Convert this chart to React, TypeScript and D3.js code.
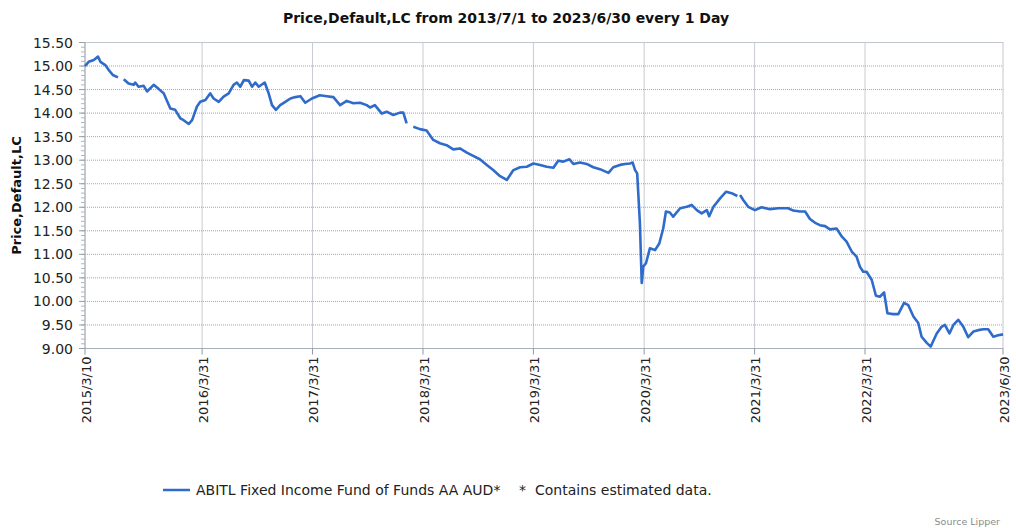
import React from "react";
import * as d3 from "d3";

// price series (null = gap in the line)
const priceDates = [
  "2015-03-10", "2015-03-22", "2015-04-08", "2015-04-22", "2015-04-30", "2015-05-16", "2015-05-27", "2015-06-10",
  "2015-06-27", "2015-07-05", "2015-07-16", "2015-08-01", "2015-08-18", "2015-08-23", "2015-09-03", "2015-09-20",
  "2015-10-01", "2015-10-23", "2015-11-09", "2015-11-25", "2015-12-17", "2016-01-02", "2016-01-19", "2016-01-30",
  "2016-02-16", "2016-02-27", "2016-03-14", "2016-03-25", "2016-04-11", "2016-04-27", "2016-05-08", "2016-05-25",
  "2016-06-10", "2016-06-27", "2016-07-13", "2016-07-24", "2016-08-04", "2016-08-16", "2016-09-01", "2016-09-12",
  "2016-09-23", "2016-10-04", "2016-10-24", "2016-11-06", "2016-11-17", "2016-11-30", "2016-12-14", "2016-12-31",
  "2017-01-17", "2017-02-02", "2017-02-19", "2017-03-07", "2017-03-29", "2017-04-24", "2017-05-17", "2017-06-08",
  "2017-06-30", "2017-07-22", "2017-08-13", "2017-09-04", "2017-09-26", "2017-10-07", "2017-10-23", "2017-11-15",
  "2017-12-01", "2017-12-23", "2018-01-14", "2018-01-25", "2018-02-05", "2018-02-12", "2018-02-27", "2018-03-21",
  "2018-04-12", "2018-05-04", "2018-05-26", "2018-06-17", "2018-07-09", "2018-07-31", "2018-08-23", "2018-09-13",
  "2018-10-05", "2018-10-28", "2018-11-18", "2018-12-11", "2019-01-02", "2019-01-24", "2019-02-15", "2019-03-09",
  "2019-03-31", "2019-04-22", "2019-05-14", "2019-06-05", "2019-06-21", "2019-07-08", "2019-07-28", "2019-08-10",
  "2019-09-01", "2019-09-23", "2019-10-15", "2019-11-06", "2019-12-04", "2019-12-20", "2020-01-11", "2020-01-28",
  "2020-02-13", "2020-02-22", "2020-03-01", "2020-03-08", "2020-03-17", "2020-03-23", "2020-03-28", "2020-04-06",
  "2020-04-19", "2020-05-06", "2020-05-20", "2020-06-02", "2020-06-11", "2020-06-24", "2020-07-05", "2020-07-28",
  "2020-08-19", "2020-09-04", "2020-09-21", "2020-10-07", "2020-10-24", "2020-11-01", "2020-11-15", "2020-12-07",
  "2020-12-27", "2021-01-14", "2021-02-02", "2021-02-06", "2021-02-11", "2021-02-22", "2021-03-10", "2021-04-01",
  "2021-04-23", "2021-05-21", "2021-06-17", "2021-07-20", "2021-08-06", "2021-08-28", "2021-09-14", "2021-09-30",
  "2021-10-17", "2021-11-02", "2021-11-19", "2021-12-05", "2021-12-27", "2022-01-13", "2022-01-29", "2022-02-15",
  "2022-03-03", "2022-03-14", "2022-03-25", "2022-04-05", "2022-04-22", "2022-05-06", "2022-05-19", "2022-06-02",
  "2022-06-13", "2022-07-02", "2022-07-19", "2022-08-07", "2022-08-21", "2022-09-07", "2022-09-23", "2022-10-04",
  "2022-10-21", "2022-11-03", "2022-11-10", "2022-11-23", "2022-12-09", "2022-12-20", "2023-01-04", "2023-01-17",
  "2023-02-02", "2023-02-19", "2023-03-07", "2023-03-24", "2023-04-09", "2023-04-26", "2023-05-12", "2023-05-29",
  "2023-06-14", "2023-06-30",
];
const priceValues = [
  15.0, 15.09, 15.13, 15.2, 15.09, 15.02, 14.92, 14.81,
  14.76, null, 14.72, 14.63, 14.6, 14.65, 14.56, 14.58,
  14.46, 14.6, 14.51, 14.42, 14.1, 14.07, 13.89, 13.85,
  13.77, 13.85, 14.14, 14.24, 14.28, 14.42, 14.31, 14.24,
  14.35, 14.42, 14.6, 14.65, 14.56, 14.7, 14.69, 14.56,
  14.65, 14.56, 14.65, 14.42, 14.17, 14.07, 14.17, 14.24,
  14.31, 14.34, 14.36, 14.22, 14.31, 14.38, 14.36, 14.34,
  14.17, 14.26, 14.21, 14.22, 14.17, 14.12, 14.17, 13.99,
  14.03, 13.96, 14.01, 14.01, 13.78, null, 13.71, 13.66,
  13.63, 13.43, 13.36, 13.32, 13.23, 13.25, 13.16, 13.09,
  13.02, 12.9, 12.79, 12.66, 12.58, 12.79, 12.85, 12.86,
  12.93, 12.9, 12.86, 12.84, 12.99, 12.97, 13.02, 12.92,
  12.95, 12.92, 12.85, 12.81, 12.73, 12.85, 12.9, 12.92,
  12.93, 12.95, 12.79, 12.72, 11.66, 10.39, 10.74, 10.81,
  11.13, 11.09, 11.23, 11.55, 11.91, 11.89, 11.8, 11.98,
  12.01, 12.05, 11.94, 11.87, 11.94, 11.81, 12.01, 12.19,
  12.33, 12.3, 12.24, null, 12.26, 12.15, 12.01, 11.94,
  12.0, 11.96, 11.98, 11.98, 11.93, 11.91, 11.91, 11.75,
  11.67, 11.62, 11.6, 11.53, 11.55, 11.38, 11.27, 11.06,
  10.95, 10.74, 10.63, 10.63, 10.46, 10.12, 10.1, 10.19,
  9.75, 9.73, 9.73, 9.97, 9.92, 9.68, 9.54, 9.25,
  9.12, 9.04, 9.14, 9.32, 9.46, 9.5, 9.32, 9.5,
  9.61, 9.46, 9.24, 9.36, 9.39, 9.41, 9.41, 9.25,
  9.28, 9.3,
];

const xTickDates = ["2015-03-10", "2016-03-31", "2017-03-31", "2018-03-31", "2019-03-31", "2020-03-31", "2021-03-31", "2022-03-31", "2023-06-30"];
const xTickLabels = ["2015/3/10", "2016/3/31", "2017/3/31", "2018/3/31", "2019/3/31", "2020/3/31", "2021/3/31", "2022/3/31", "2023/6/30"];
const yTicks = [9, 9.5, 10, 10.5, 11, 11.5, 12, 12.5, 13, 13.5, 14, 14.5, 15, 15.5];

const title = "Price,Default,LC from 2013/7/1 to 2023/6/30 every 1 Day";
const yTitle = "Price,Default,LC";
const seriesName = "ABITL Fixed Income Fund of Funds AA AUD*";

const W = 1016;
const H = 528;
const left = 85, right = 1003, top = 42.5, bottom = 348.5;
const font = "'DejaVu Sans', Verdana, sans-serif";
const blue = "#2f6bcb";

const parse = d3.timeParse("%Y-%m-%d");

export default function App() {
  const x = d3.scaleTime()
    .domain([parse(xTickDates[0])!, parse(xTickDates[xTickDates.length - 1])!])
    .range([left, right]);
  const y = d3.scaleLinear().domain([9, 15.5]).range([bottom, top]);

  const points = priceDates.map((d, i) => ({ date: parse(d)!, value: priceValues[i] }));
  const line = d3.line<{ date: Date; value: number | null }>()
    .defined((d) => d.value != null)
    .x((d) => x(d.date))
    .y((d) => y(d.value as number));

  const minorTicks = d3.range(90, 156).map((v) => v / 10);
  const fmt = d3.format(".2f");

  return (
    <svg width={W} height={H} style={{ position: "absolute", left: 0, top: 0, background: "#fff" }} fontFamily={font}>
      <text x={506} y={23} textAnchor="middle" fontSize={14} fontWeight="bold" fill="#111">{title}</text>

      {/* gridlines */}
      {yTicks.slice(1, -1).map((t) => (
        <line key={"gy" + t} x1={left} x2={right} y1={y(t)} y2={y(t)} stroke="#a6a6a6" strokeDasharray="1,1" />
      ))}
      {xTickDates.slice(1, -1).map((d) => (
        <line key={"gx" + d} x1={x(parse(d)!)} x2={x(parse(d)!)} y1={top} y2={bottom} stroke="#8f96a3" strokeDasharray="1,1" />
      ))}

      {/* frame */}
      <rect x={left} y={top} width={right - left} height={bottom - top} fill="none" stroke="#c2c6cf" />
      <line x1={left} x2={left} y1={top} y2={bottom} stroke="#a9aeb8" />
      <line x1={left} x2={right} y1={bottom} y2={bottom} stroke="#a9aeb8" />

      {/* y ticks */}
      {minorTicks.map((t) => (
        <line key={"my" + t} x1={left - 4} x2={left} y1={y(t)} y2={y(t)} stroke="#b0b4bc" />
      ))}
      {yTicks.map((t) => (
        <g key={"y" + t}>
          <line x1={left - 6} x2={left} y1={y(t)} y2={y(t)} stroke="#9aa0aa" />
          <text x={left - 12} y={y(t)} dy="0.36em" textAnchor="end" fontSize={14} fill="#222">{fmt(t)}</text>
        </g>
      ))}

      {/* x ticks */}
      {xTickDates.map((d, i) => {
        const px = x(parse(d)!);
        return (
          <g key={"x" + d}>
            <line x1={px} x2={px} y1={bottom} y2={bottom + 6} stroke="#8f96a3" />
            <text transform={`translate(${px + 1},${bottom + 8}) rotate(-90)`} dy="0.36em" textAnchor="end" fontSize={13} fill="#222">
              {xTickLabels[i]}
            </text>
          </g>
        );
      })}

      <text transform={`translate(21,${(top + bottom) / 2}) rotate(-90)`} textAnchor="middle" fontSize={13} fontWeight="bold" fill="#111">
        {yTitle}
      </text>

      <path d={line(points) ?? ""} fill="none" stroke={blue} strokeWidth={2.6} strokeLinejoin="round" />

      {/* legend */}
      <line x1={163} x2={190} y1={490} y2={490} stroke={blue} strokeWidth={2.5} />
      <text x={196} y={495} fontSize={14} fill="#222">{seriesName}</text>
      <text x={519} y={495} fontSize={14} fill="#222">*</text>
      <text x={535} y={495} fontSize={14} fill="#222">Contains estimated data.</text>

      <text x={1000} y={525} textAnchor="end" fontSize={9.5} fill="#8a8a8a">Source Lipper</text>
    </svg>
  );
}
